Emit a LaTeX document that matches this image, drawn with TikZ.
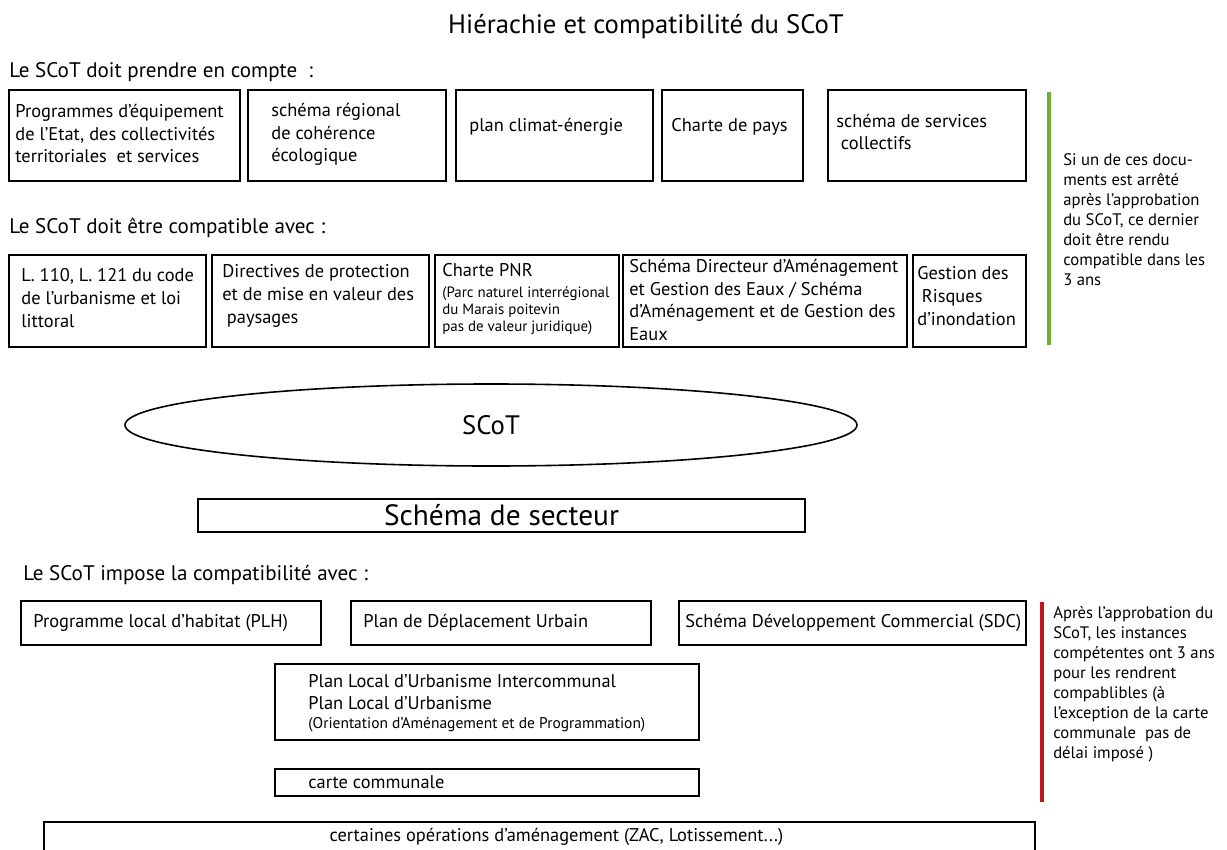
\documentclass[tikz,border=0pt]{standalone}
\usepackage{fontspec}
\setmainfont{PT Sans}
\usepackage{tikz}
\usetikzlibrary{shapes.geometric}
\definecolor{scotgreen}{RGB}{106,176,58}
\definecolor{scotred}{RGB}{192,22,34}
\tikzstyle{docbox}=[draw, line width=1.35pt, inner sep=0pt]
\tikzstyle{doctext}=[anchor=west, inner sep=0pt, align=left, font=\fontsize{13.8}{17}\selectfont]
\tikzstyle{headtext}=[doctext, font=\fontsize{15.8}{18}\selectfont]
\tikzstyle{notetext}=[anchor=west, inner sep=0pt, align=left, font=\fontsize{12.5}{15}\selectfont]
\tikzstyle{sidebar}=[line width=3.6pt]
\newcommand{\smalltxt}{\fontsize{11.2}{13}\selectfont}
\newcommand{\midtxt}{\fontsize{11.6}{13}\selectfont}

\begin{document}
\begin{tikzpicture}[x=0.75pt, y=-0.75pt]
    \useasboundingbox (0,0) rectangle (1227,849);
    \clip (0,0) rectangle (1227,849);
    \fill[white] (0,0) rectangle (1227,849);

    \node[font=\fontsize{20}{24}\selectfont, inner sep=0pt] (title) at (646,27) {Hiérachie et compatibilité du SCoT};

    % prendre en compte
    \node[headtext] (lbl1) at (9,72) {Le SCoT doit prendre en compte\ \ :};
    \node[docbox, minimum width=173.25pt, minimum height=68.25pt] (b1) at (124.5,135.5) {};
    \node[docbox, minimum width=148.5pt, minimum height=68.25pt] (b2) at (347,135.5) {};
    \node[docbox, minimum width=147.75pt, minimum height=68.25pt] (b3) at (554.5,135.5) {};
    \node[docbox, minimum width=105.75pt, minimum height=68.25pt] (b4) at (732.5,135.5) {};
    \node[docbox, minimum width=148.5pt, minimum height=68.25pt] (b5) at (927,135.5) {};
    \node[doctext] (b1t) at ([xshift=5.25pt, yshift=1.5pt]b1.west) {Programmes d'équipement\\de l'Etat, des collectivités\\territoriales\ \ et services};
    \node[doctext] (b2t) at ([xshift=18pt, yshift=0.75pt]b2.west) {schéma régional\\de cohérence\\écologique};
    \node[doctext] (b3t) at ([xshift=10.5pt, yshift=6.4pt]b3.west) {plan climat-énergie};
    \node[doctext] (b4t) at ([xshift=7.5pt, yshift=6.4pt]b4.west) {Charte de pays};
    \node[doctext] (b5t) at ([xshift=6.75pt, yshift=2.6pt]b5.west) {schéma de services\\\hspace{0.25em}collectifs};

    % etre compatible
    \node[headtext] (lbl2) at (9,228) {Le SCoT doit être compatible avec :};
    \node[docbox, minimum width=147.75pt, minimum height=69pt] (c1) at (107.5,301) {};
    \node[docbox, minimum width=162.75pt, minimum height=69pt] (c2) at (320.5,301) {};
    \node[docbox, minimum width=138pt, minimum height=69pt] (c3) at (527,301) {};
    \node[docbox, minimum width=213pt, minimum height=69pt] (c4) at (765,301) {};
    \node[docbox, minimum width=84.75pt, minimum height=69pt] (c5) at (969.5,301) {};
    \node[doctext] (c1t) at ([xshift=9.75pt, yshift=2.25pt]c1.west) {L. 110, L. 121 du code\\de l’urbanisme et loi\\littoral};
    \node[doctext] (c2t) at ([xshift=8.25pt, yshift=3.75pt]c2.west) {Directives de protection\\et de mise en valeur des\\\hspace{0.25em}paysages};
    \node[doctext] (c3t) at ([xshift=6pt, yshift=1.1pt]c3.west) {Charte PNR\\[-1.75pt]{\smalltxt(Parc naturel interrégional}\\[-4pt]{\smalltxt du Marais poitevin}\\[-4pt]{\smalltxt pas de valeur juridique)}};
    \node[doctext] (c4t) at ([xshift=5.25pt, yshift=0.75pt]c4.west) {Schéma Directeur d’Aménagement\\et Gestion des Eaux / Schéma\\d’Aménagement et de Gestion des\\Eaux};
    \node[doctext] (c5t) at ([xshift=3.75pt, yshift=3.75pt]c5.west) {Gestion des\\\hspace{0.25em}Risques\\d’inondation};

    \draw[sidebar, scotgreen] (1049,92) -- (1049,345);
    \node[notetext] (note1) at (1063,220) {Si un de ces docu-\\ments est arrêté\\après l'approbation\\du SCoT, ce dernier\\doit être rendu\\compatible dans les\\3 ans};

    % SCoT et schema de secteur
    \node[draw, ellipse, line width=1.2pt, inner sep=0pt, minimum width=549pt, minimum height=61.5pt, font=\fontsize{20}{24}\selectfont] (scot) at (491,425) {SCoT};
    \node[docbox, minimum width=455.25pt, minimum height=24.75pt, font=\fontsize{22}{24}\selectfont] (secteur) at (501.5,515.5) {Schéma de secteur};

    % impose la compatibilite
    \node[headtext] (lbl3) at (23,575) {Le SCoT impose la compatibilité avec :};
    \node[docbox, minimum width=225pt, minimum height=33pt] (d1) at (171,623) {};
    \node[docbox, minimum width=225pt, minimum height=33pt] (d2) at (501,623) {};
    \node[docbox, minimum width=260.25pt, minimum height=33pt] (d3) at (852.5,623) {};
    \node[doctext] (d1t) at ([xshift=9.75pt]d1.west) {Programme local d’habitat (PLH)};
    \node[doctext] (d2t) at ([xshift=9.75pt]d2.west) {Plan de Déplacement Urbain};
    \node[doctext] (d3t) at ([xshift=5.25pt]d3.west) {Schéma Développement Commercial (SDC)};

    \node[docbox, minimum width=318pt, minimum height=57pt] (plu) at (487,702) {};
    \node[doctext] (plut) at ([xshift=25.5pt, yshift=-0.75pt]plu.west) {Plan Local d’Urbanisme Intercommunal\\Plan Local d’Urbanisme\\[-3.25pt]{\midtxt(Orientation d’Aménagement et de Programmation)}};
    \node[docbox, minimum width=318pt, minimum height=20.25pt] (cc) at (487,782.5) {};
    \node[doctext] (cct) at ([xshift=25.5pt]cc.west) {carte communale};

    \node[docbox, minimum width=743.25pt, minimum height=43.5pt] (ops) at (539.5,851) {};
    \node[doctext, anchor=center] (opst) at ([xshift=12.75pt, yshift=-12pt]ops.north) {certaines opérations d’aménagement (ZAC, Lotissement...)};

    \draw[sidebar, scotred] (1042,602) -- (1042,802);
    \node[notetext] (note2) at (1053,684.5) {Après l’approbation du\\SCoT, les instances\\compétentes ont 3 ans\\pour les rendrent\\compablibles (à\\l’exception de la carte\\communale\ \ pas de\\délai imposé )};
\end{tikzpicture}
\end{document}
